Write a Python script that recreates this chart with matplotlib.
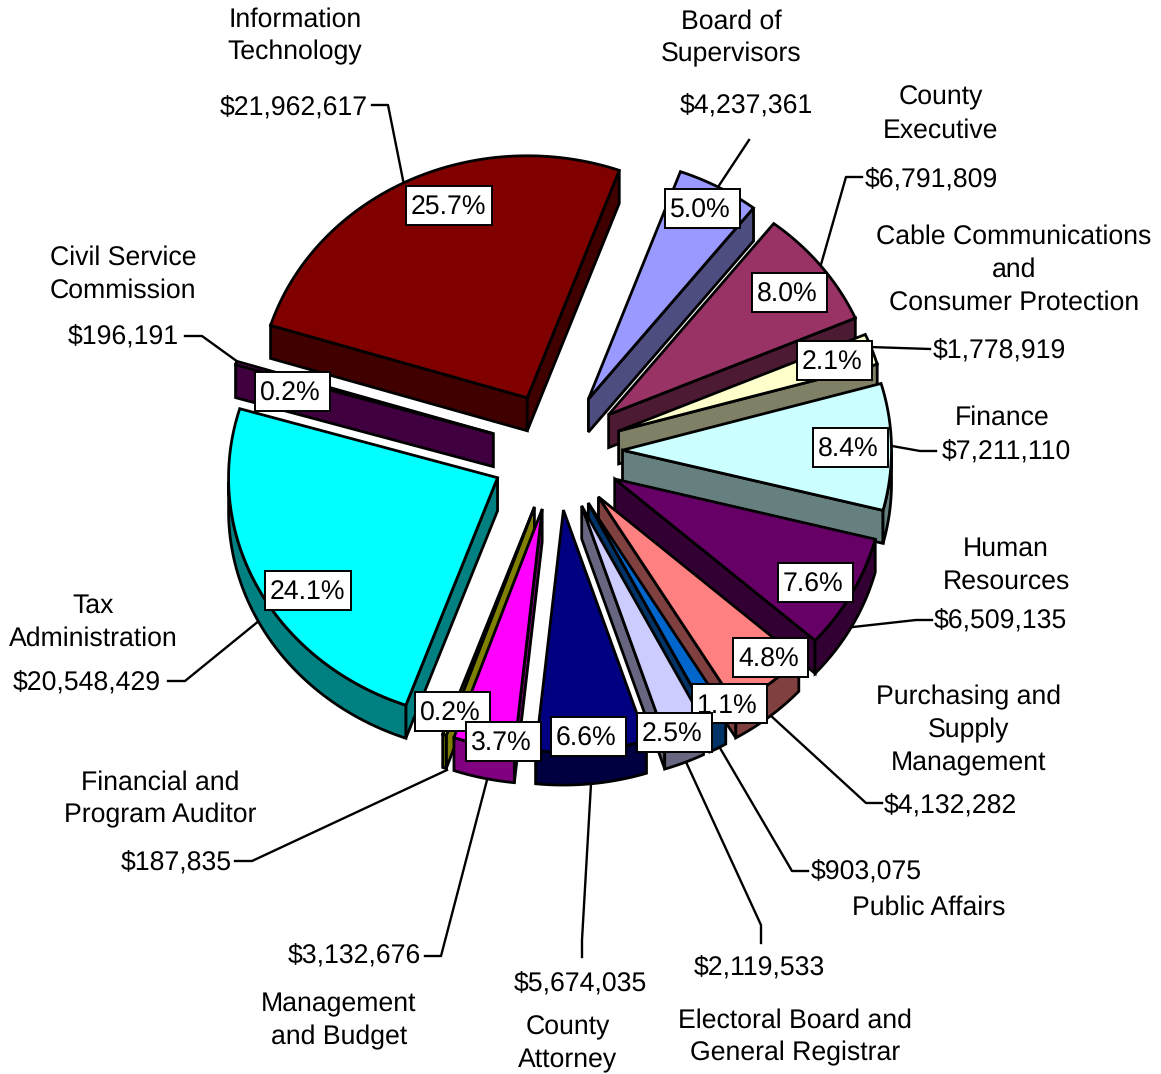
import numpy as np
import matplotlib
matplotlib.use('Agg')
import matplotlib.pyplot as plt
from matplotlib.patches import Polygon, Rectangle

plt.rcParams['font.family'] = ['Liberation Sans', 'DejaVu Sans']
plt.rcParams['text.hinting'] = 'no_hinting'

# data, clockwise from the top
names = ['Board of\nSupervisors', 'County\nExecutive', 'Cable Communications\nand\nConsumer Protection',
         'Finance', 'Human\nResources', 'Purchasing and\nSupply\nManagement', 'Public Affairs',
         'Electoral Board and\nGeneral Registrar', 'County\nAttorney', 'Management\nand Budget',
         'Financial and\nProgram Auditor', 'Tax\nAdministration', 'Civil Service\nCommission',
         'Information\nTechnology']
values = [4237361, 6791809, 1778919, 7211110, 6509135, 4132282, 903075,
          2119533, 5674035, 3132676, 187835, 20548429, 196191, 21962617]
value_labels = ['$4,237,361', '$6,791,809', '$1,778,919', '$7,211,110', '$6,509,135', '$4,132,282', '$903,075',
                '$2,119,533', '$5,674,035', '$3,132,676', '$187,835', '$20,548,429', '$196,191', '$21,962,617']
percents = ['5.0%', '8.0%', '2.1%', '8.4%', '7.6%', '4.8%', '1.1%',
            '2.5%', '6.6%', '3.7%', '0.2%', '24.1%', '0.2%', '25.7%']
colors = ['#9999FF', '#993366', '#FFFFCC', '#CCFFFF', '#660066', '#FF8080', '#0066CC',
          '#CCCCFF', '#000080', '#FF00FF', '#FFFF00', '#00FFFF', '#800080', '#800000']

# layout in pixels
cx, cy = 556.5, 451
rx, ry = 269, 242
explode = 66
depth = 33
start = 20
lw = 2.0
fs = 19.2

name_pos = [(731, 36), (941, 112), (1014, 268), (1002, 416), (1006, 563), (969, 728), (929, 906),
            (795, 1035), (568, 1042), (339, 1019), (160, 797), (93, 620), (123, 272), (295, 34)]
value_pos = [(746, 105), (931, 179), (999, 350), (1006, 451), (1000, 620), (950, 805), (866, 871),
             (759, 967), (580, 983), (354, 955), (176, 862), (87, 682), (123, 336), (294, 107)]
# centres of the percent boxes
pct_pos = [(702.5, 208), (789.5, 292), (834.5, 360.5), (850.5, 447), (815.5, 582.5), (770.5, 657.5), (729.5, 703),
           (674.5, 732), (588.5, 736.5), (503, 741), (452, 711), (308, 590.5), (292.5, 391), (449, 205)]
leaders = [[(718, 187), (749, 140)],
           [(820, 268), (846, 177), (862, 177)],
           [(870, 347), (930, 349)],
           [(892, 446), (920, 451), (936, 451)],
           [(853, 627), (916, 620), (932, 620)],
           [(770, 715), (866, 803), (882, 803)],
           [(720, 748), (792, 871), (808, 871)],
           [(686, 762), (761, 925), (761, 943)],
           [(591, 784), (582, 940), (582, 957)],
           [(487, 780), (441, 956), (425, 956)],
           [(447, 770), (252, 861), (235, 861)],
           [(260, 620), (185, 681), (168, 681)],
           [(238, 362), (202, 336), (185, 336)],
           [(404, 185), (388, 105), (372, 105)]]


def point(deg, r_x, r_y):
    a = np.radians(deg)
    return np.column_stack((r_x * np.sin(a), -r_y * np.cos(a)))


def wall(pts, color, z):
    pts = np.asarray(pts)
    low = pts + [0, depth]
    ax.add_patch(Polygon(np.vstack((pts, low[::-1])), closed=True, fc=color, ec='black',
                         lw=lw, joinstyle='miter', zorder=z))


fig = plt.figure(figsize=(11.61, 10.74), dpi=100)
ax = fig.add_axes([0, 0, 1, 1])
ax.set_xlim(0, 1161)
ax.set_ylim(1074, 0)
ax.axis('off')

shares = np.array(values) / sum(values) * 360
ends = start + np.cumsum(shares)
starts = ends - shares
mids = (starts + ends) / 2

# back slices first
order = np.argsort(-np.cos(np.radians(mids)))
for z, i in enumerate(order):
    apex = np.array([cx, cy]) + point(mids[i], explode, explode * ry / rx)[0]
    t = np.linspace(starts[i], ends[i], 80)
    arc = apex + point(t, rx, ry)
    dark = tuple(c / 2 for c in matplotlib.colors.to_rgb(colors[i]))

    # radial faces, only the ones turned to the viewer
    if arc[0][0] < apex[0]:
        wall([apex, arc[0]], dark, z + 2)
    if arc[-1][0] > apex[0]:
        wall([apex, arc[-1]], dark, z + 2)
    # outer face where the rim faces down
    front = np.cos(np.radians(t)) < 0
    if front.any():
        wall(arc[front], dark, z + 2)
    ax.add_patch(Polygon(np.vstack((apex, arc)), closed=True, fc=colors[i], ec='black',
                         lw=lw, joinstyle='miter', zorder=z + 2))

for line in leaders:
    xs, ys = zip(*line)
    ax.plot(xs, ys, color='black', lw=1.7, zorder=1)

dy = 2
for i in range(len(values)):
    ax.text(name_pos[i][0], name_pos[i][1] + dy, names[i], fontsize=fs, ha='center', va='center',
            linespacing=1.4, zorder=40)
    ax.text(value_pos[i][0], value_pos[i][1] + dy, value_labels[i], fontsize=fs, ha='center', va='center', zorder=40)

# percent boxes: text sits left of centre in the box
for n, i in enumerate([0, 1, 3, 4, 5, 2, 6, 7, 8, 10, 9, 11, 12, 13]):
    x, y = pct_pos[i]
    w = 11 * len(percents[i]) + 31
    ax.add_patch(Rectangle((x - w / 2, y - 19.5), w, 39, fc='white', ec='black', lw=1.4, zorder=30 + 2 * n))
    ax.text(x - w / 2 + 5, y + 2.5, percents[i], fontsize=fs, ha='left', va='center', zorder=31 + 2 * n)

fig.savefig('out.png', dpi=100)
